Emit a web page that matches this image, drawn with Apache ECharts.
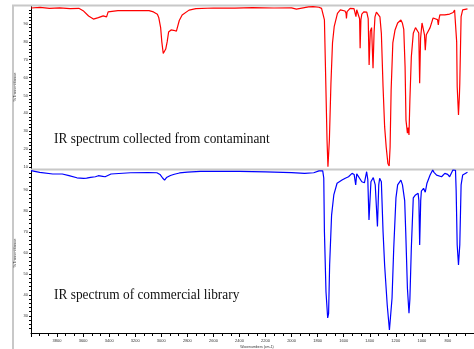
<!DOCTYPE html>
<html><head><meta charset="utf-8">
<script src="https://cdn.jsdelivr.net/npm/echarts@6/dist/echarts.min.js"></script>
<style>html,body{margin:0;padding:0;background:#fff;overflow:hidden}#c{width:474px;height:349px}</style>
</head><body><div id="c"></div>
<script>
// Contaminant spectrum (red, top panel)
const redWavenumber = [4000,3930,3858,3780,3700,3633,3600,3558,3521,3483,3446,3420,3408,3333,3184,3094,3060,3049,3030,3019,3005,2996,2985,2977,2966,2955,2944,2925,2906,2884,2862,2840,2787,2734,2600,2435,2300,2135,2000,1963,1950,1870,1835,1790,1770,1761,1748,1741,1728,1721,1715,1710,1698,1686,1673,1648,1626,1611,1590,1582,1579,1574,1551,1521,1510,1506,1500,1485,1478,1474,1468,1461,1446,1423,1412,1405,1396,1386,1375,1367,1360,1349,1334,1322,1311,1298,1286,1274,1261,1251,1244,1236,1223,1206,1186,1161,1150,1139,1129,1122,1111,1105,1099,1092,1081,1066,1049,1034,1024,1017,1010,999,989,980,974,966,959,937,914,900,880,874,868,862,824,787,760,749,740,733,729,719,712,709,699,687,650];
const redTransmittance = [99.0,99.3,98.8,99.1,98.6,98.8,97.5,94.5,92.8,93.6,94.6,94.0,96.8,97.5,97.6,97.5,96.8,96.6,95.5,93.5,88.0,80.0,73.5,72.6,76.0,80.0,85.5,86.7,86.5,86.0,92.0,95.1,97.8,98.6,99.0,98.9,99.2,99.0,99.1,98.4,99.2,99.6,99.8,99.4,98.8,97.9,92.3,68.9,25.0,10.0,10.5,25.0,56.8,79.4,88.5,96.0,97.9,97.5,97.3,96.0,93.2,97.0,98.8,98.6,98.0,94.1,98.0,97.9,93.0,76.4,92.3,95.6,96.8,96.7,93.0,67.0,86.0,88.0,65.2,85.0,94.0,96.7,96.6,94.0,84.8,54.9,32.5,21.2,11.9,10.5,21.0,53.0,79.4,86.7,90.6,92.3,90.6,87.0,66.1,36.2,28.9,32.0,27.8,47.4,71.7,84.8,88.0,88.0,85.0,56.8,82.0,90.6,89.5,84.0,75.4,84.0,85.0,88.0,93.4,93.5,92.5,89.5,93.0,95.1,95.1,95.6,96.5,97.9,97.5,80.0,54.9,39.0,50.0,56.8,94.1,97.9,98.5];
// Commercial library spectrum (blue, bottom panel)
const blueWavenumber = [4000,3933,3833,3760,3708,3648,3596,3573,3543,3506,3483,3450,3431,3386,3236,3100,3034,3010,2990,2975,2960,2930,2900,2860,2800,2700,2400,2200,2000,1900,1830,1790,1776,1761,1753,1748,1736,1723,1716,1708,1693,1676,1651,1613,1588,1563,1536,1520,1508,1500,1486,1461,1441,1424,1415,1406,1391,1373,1358,1341,1331,1324,1311,1298,1286,1266,1249,1236,1229,1216,1199,1186,1161,1149,1132,1124,1111,1099,1092,1081,1066,1049,1029,1023,1017,1009,1004,987,974,961,937,917,907,887,874,849,824,802,787,762,742,737,729,719,709,699,687,650];
const blueTransmittance = [99.3,98.5,97.7,97.7,96.9,95.9,95.6,95.7,96.1,96.4,96.9,96.6,96.4,97.7,98.3,98.4,98.3,97.5,95.8,94.8,96.0,97.0,97.6,98.2,98.6,99.0,99.0,98.7,98.4,98.0,98.3,99.2,99.6,99.2,95.8,70.2,41.5,29.0,31.0,54.3,78.1,87.7,93.3,94.8,95.7,96.4,98.0,97.5,92.5,97.8,97.5,94.0,93.5,98.8,95.0,75.8,94.0,96.0,92.5,72.6,92.5,95.7,94.0,70.2,54.3,35.2,23.2,24.1,38.5,62.4,86.3,92.5,94.8,92.5,85.0,70.2,43.2,31.2,38.0,62.4,86.3,87.7,88.5,85.0,63.8,85.0,89.5,90.9,89.0,93.3,97.2,99.6,98.5,97.2,97.7,96.4,98.0,97.5,96.4,99.6,99.5,90.0,63.8,54.3,64.0,92.5,97.2,98.5];
// Axis tick labels
const topYLabels = [10,20,30,40,50,60,70,80,90];
const bottomYLabels = [30,40,50,60,70,80,90];
const topYTicks = [10,12,14,16,18,20,22,24,26,28,30,32,34,36,38,40,42,44,46,48,50,52,54,56,58,60,62,64,66,68,70,72,74,76,78,80,82,84,86,88,90,92,94,96,98];
const bottomYTicks = [24,26,28,30,32,34,36,38,40,42,44,46,48,50,52,54,56,58,60,62,64,66,68,70,72,74,76,78,80,82,84,86,88,90,92,94,96,98];
const captionTop = 'IR spectrum collected from contaminant';
const captionBottom = 'IR spectrum of commercial library';

const chart = echarts.init(document.getElementById('c'), null, {renderer: 'canvas'});
const tinyLabel = {fontSize: 4, color: '#333', fontFamily: 'Liberation Sans', formatter: v => String(v)};
const pairs = (w, t) => w.map((v, i) => [v, t[i]]);

const xCommon = {type: 'value', min: 600, max: 4000, inverse: true, interval: 200, splitLine: {show: false}};
const yCommon = {
  type: 'value', splitLine: {show: false},
  axisLine: {show: true, lineStyle: {color: '#000', width: 1}},
};

chart.setOption({
  animation: false,
  backgroundColor: '#fff',
  grid: [
    {left: 31, top: 6.2, width: 454, height: 163.3},
    {left: 31, top: 169.2, width: 454, height: 163.8}
  ],
  xAxis: [
    Object.assign({}, xCommon, {gridIndex: 0, show: false}),
    Object.assign({}, xCommon, {
      gridIndex: 1,
      axisLine: {show: true, lineStyle: {color: '#000', width: 1}},
      axisTick: {show: true, length: 4, lineStyle: {color: '#000'}},
      minorTick: {show: true, splitNumber: 3, length: 3, lineStyle: {color: '#000'}},
      axisLabel: Object.assign({}, tinyLabel, {margin: 6, showMaxLabel: false, showMinLabel: false})
    })
  ],
  yAxis: [
    Object.assign({}, yCommon, {
      gridIndex: 0, min: 8.5, max: 100,
      axisTick: {show: true, length: 2, customValues: topYTicks, lineStyle: {color: '#000'}},
      axisLabel: Object.assign({}, tinyLabel, {margin: 3, customValues: topYLabels})
    }),
    Object.assign({}, yCommon, {
      gridIndex: 1, min: 21.8, max: 100,
      axisTick: {show: true, length: 2, customValues: bottomYTicks, lineStyle: {color: '#000'}},
      axisLabel: Object.assign({}, tinyLabel, {margin: 3, customValues: bottomYLabels})
    })
  ],
  series: [
    {type: 'line', xAxisIndex: 0, yAxisIndex: 0, data: pairs(redWavenumber, redTransmittance),
     showSymbol: false, lineStyle: {color: '#ff0000', width: 1.2}, itemStyle: {color: '#ff0000'}},
    {type: 'line', xAxisIndex: 1, yAxisIndex: 1, data: pairs(blueWavenumber, blueTransmittance),
     showSymbol: false, lineStyle: {color: '#0000ff', width: 1.2}, itemStyle: {color: '#0000ff'}}
  ],
  graphic: [
    {type: 'line', shape: {x1: 13, y1: 5, x2: 13, y2: 349}, style: {stroke: '#c8c8c8', lineWidth: 2}, z: 1},
    {type: 'line', shape: {x1: 12, y1: 5.5, x2: 474, y2: 5.5}, style: {stroke: '#c8c8c8', lineWidth: 2}, z: 1},
    {type: 'line', shape: {x1: 31, y1: 169.6, x2: 474, y2: 169.6}, style: {stroke: '#c8c8c8', lineWidth: 2}, z: 1},
    {type: 'text', x: 54, y: 139.3, scaleX: 0.89, z: 10,
     style: {text: captionTop, x: 0, y: 0, align: 'left', verticalAlign: 'middle', fill: '#111', font: '15px "Liberation Serif"'}},
    {type: 'text', x: 54, y: 295.3, scaleX: 0.89, z: 10,
     style: {text: captionBottom, x: 0, y: 0, align: 'left', verticalAlign: 'middle', fill: '#111', font: '15px "Liberation Serif"'}},
    {type: 'text', x: 15, y: 87, rotation: Math.PI / 2, z: 10,
     style: {text: '%Transmittance', align: 'center', verticalAlign: 'middle', fill: '#333', font: '4px "Liberation Sans"'}},
    {type: 'text', x: 15, y: 253, rotation: Math.PI / 2, z: 10,
     style: {text: '%Transmittance', align: 'center', verticalAlign: 'middle', fill: '#333', font: '4px "Liberation Sans"'}},
    {type: 'text', x: 257, y: 347, z: 10,
     style: {text: 'Wavenumbers (cm-1)', align: 'center', verticalAlign: 'middle', fill: '#333', font: '3.5px "Liberation Sans"'}}
  ]
});
</script>
</body></html>
